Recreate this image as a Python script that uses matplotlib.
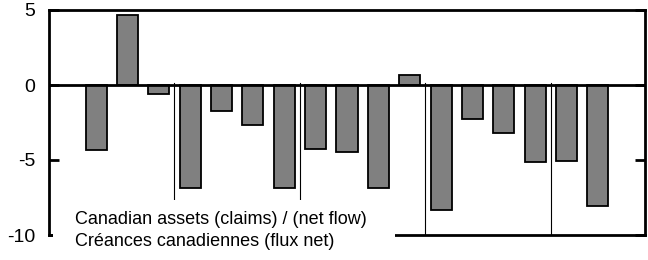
import numpy as np
import matplotlib.pyplot as plt
from matplotlib.patches import Rectangle

plt.rcParams['font.family'] = ['Liberation Sans', 'DejaVu Sans']

# quarterly values, 17 bars (slot 0 and last slot empty)
values = [-4.33, 4.64, -0.6, -6.87, -1.71, -2.67, -6.87, -4.25,
          -4.44, -6.89, 0.67, -8.33, -2.24, -3.22, -5.13, -5.04, -8.04]
n_slots = 19
year_breaks = [3.5, 7.5, 11.5, 15.5]
yticks = [5, 0, -5, -10]
label_en = "Canadian assets (claims) / (net flow)"
label_fr = "Créances canadiennes (flux net)"

fig = plt.figure(figsize=(6.48, 2.6), dpi=100)
ax = fig.add_axes([49/648, 1-235/260, (645-49)/648, (235-10)/260])

x = np.arange(1, len(values)+1)
ax.bar(x, values, width=0.67, color='#808080', edgecolor='black', linewidth=1.3, zorder=2)

# year separators
for xb in year_breaks:
    ax.plot([xb, xb], [0.15, -10], color='black', linewidth=0.8, zorder=1)

ax.axhline(0, color='black', linewidth=2, zorder=3)

ax.set_xlim(-0.5, n_slots-0.5)
ax.set_ylim(-10, 5)
ax.set_yticks(yticks)
ax.set_yticklabels([str(t) for t in yticks], fontsize=14)
ax.set_xticks([])
ax.tick_params(axis='y', direction='in', length=7.5, width=2, pad=10,
               left=True, right=True)
for s in ax.spines.values():
    s.set_linewidth(2)

# white label box covering the lower left part of the plot
box = Rectangle((53/648, 0), (395-53)/648, 60/260, transform=fig.transFigure,
                facecolor='white', edgecolor='none', clip_on=False, zorder=4)
ax.add_patch(box)
fig.text(75/648, 1-219/260, label_en, fontsize=13, va='center', ha='left', zorder=5)
fig.text(75/648, 1-242/260, label_fr, fontsize=13, va='center', ha='left', zorder=5)

fig.savefig('out.png', dpi=100)
